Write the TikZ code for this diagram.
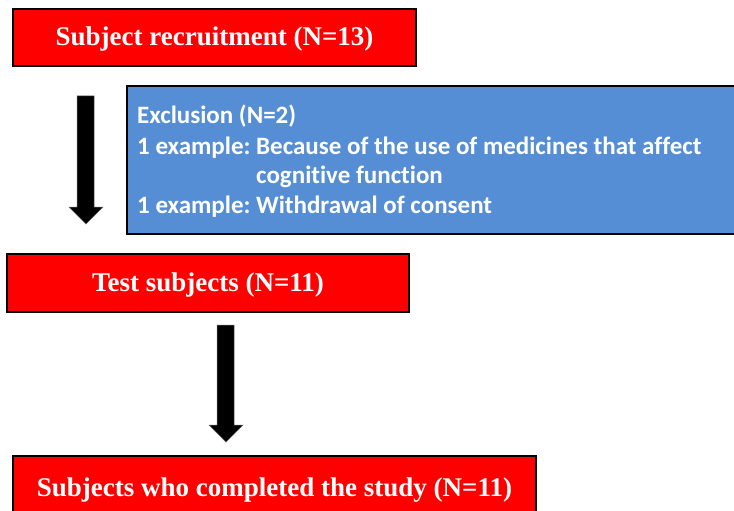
\documentclass[tikz,border=0pt]{standalone}
\usepackage{fontspec}
\setmainfont{Liberation Serif}
\newfontfamily\calib[Ligatures=NoCommon]{Carlito}
\definecolor{boxred}{HTML}{FF0000}
\definecolor{boxblue}{HTML}{558ED5}
\begin{document}
\begin{tikzpicture}[x=1pt,y=-1pt,
  redbox/.style={draw=black, line width=1.5pt, fill=boxred, text=white, inner sep=0pt,
    text height=20pt, text depth=4pt,
    font=\fontsize{27}{30}\selectfont\bfseries},
  bluebox/.style={draw=black, line width=1.5pt, fill=boxblue, inner sep=0pt},
  bluetext/.style={text=white, inner sep=0pt, anchor=base west,
    font=\calib\fontsize{25}{30}\selectfont\bfseries\frenchspacing},
  blockarrow/.style={fill=black, draw=black!60, line width=0.5pt}]
\useasboundingbox (0,0) rectangle (734,511);
\node[redbox, minimum width=403pt, minimum height=57pt] (rec) at (214.5,37.5) {Subject recruitment (N=13)};
\node[bluebox, minimum width=613pt, minimum height=148pt] (exc) at (433.5,160) {};
\node[bluetext] (l1) at (137,124) {Exclusion (N=2)};
\node[bluetext] (l2) at (137,154) {1 example: Because of the use of medicines that affect};
\node[bluetext] (l3) at (137,183) {\phantom{1 example: }cognitive function};
\node[bluetext] (l4) at (137,213) {1 example: Withdrawal of consent};
\node[redbox, minimum width=402pt, minimum height=58pt] (test) at (208,283) {Test subjects (N=11)};
\node[redbox, minimum width=523pt, minimum height=64pt] (done) at (274.5,488) {Subjects who completed the study (N=11)};
\fill[blockarrow] (77,96) -- (94,96) -- (94,207) -- (103,207) -- (86,224) -- (69,207) -- (77,207) -- cycle;
\fill[blockarrow] (217,325) -- (234,325) -- (234,425) -- (243,425) -- (226,442) -- (209,425) -- (217,425) -- cycle;
\end{tikzpicture}
\end{document}
